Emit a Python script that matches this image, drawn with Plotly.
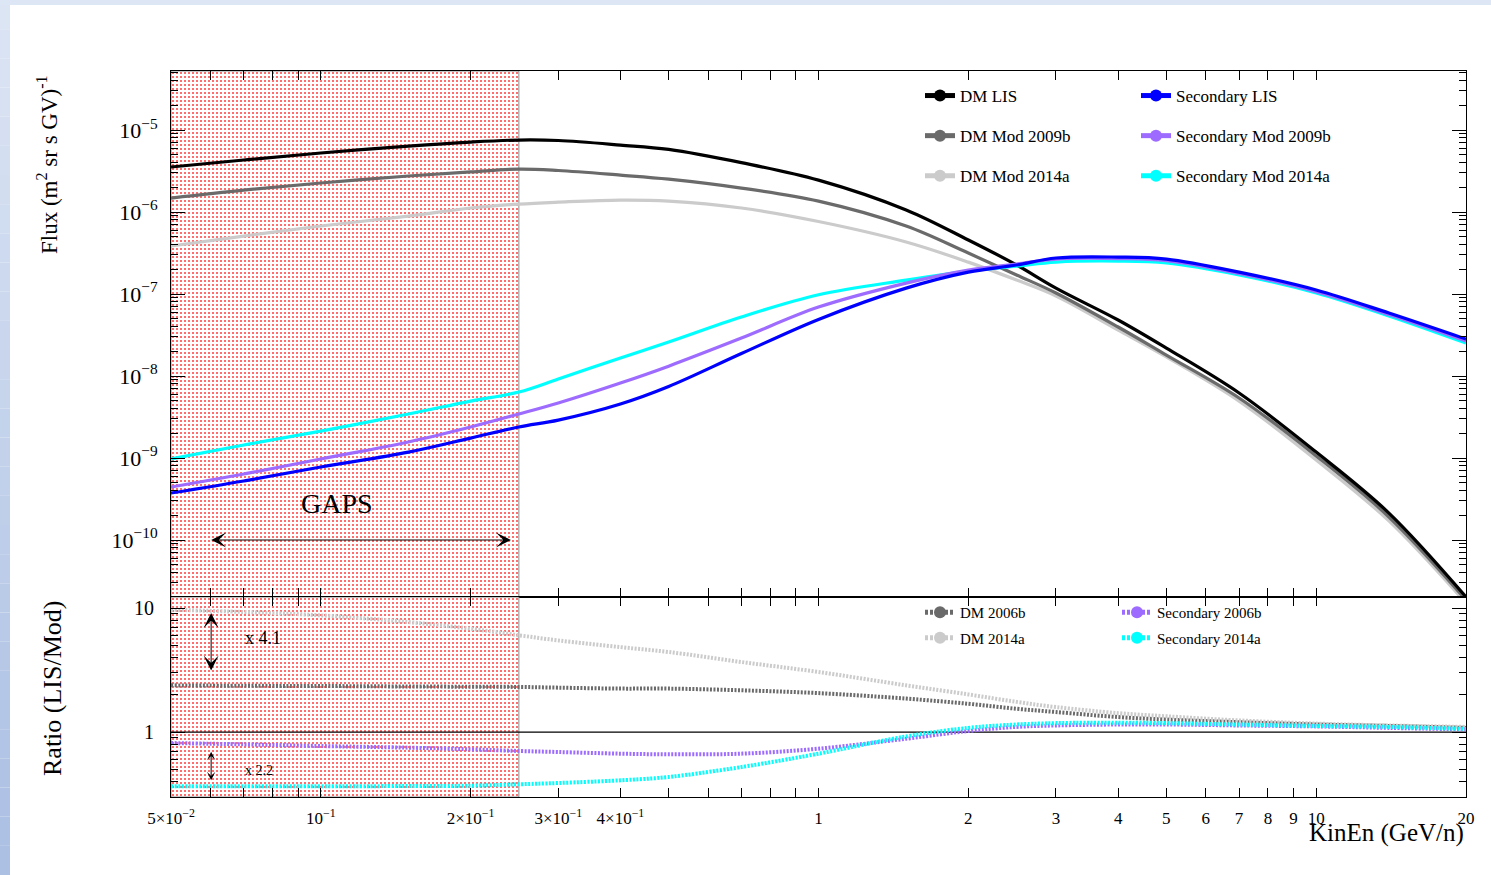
import numpy as np
import plotly.graph_objects as go

# ---------------------------------------------------------------- data
energy = [0.05, 0.07, 0.1, 0.15, 0.2, 0.25, 0.3, 0.4, 0.5, 0.7, 1,
          1.5, 2, 2.5, 3, 4, 5, 7, 10, 14, 20]  # GeV/n

dm_lis = [3.54e-6, 4.31e-6, 5.25e-6, 6.38e-6, 7.14e-6, 7.55e-6, 7.45e-6,
          6.56e-6, 5.80e-6, 4.00e-6, 2.45e-6, 1.06e-6, 4.56e-7, 2.26e-7,
          1.18e-7, 4.82e-8, 2.19e-8, 6.21e-9, 1.18e-9, 2.13e-10, 2.02e-11]
dm_mod_2009b = [1.48e-6, 1.85e-6, 2.26e-6, 2.75e-6, 3.08e-6, 3.34e-6,
                3.21e-6, 2.82e-6, 2.52e-6, 1.96e-6, 1.36e-6, 6.75e-7,
                3.16e-7, 1.71e-7, 1.03e-7, 3.96e-8, 1.80e-8, 5.40e-9,
                1.06e-9, 1.91e-10, 1.86e-11]
dm_mod_2014a = [3.85e-7, 5.09e-7, 6.75e-7, 8.93e-7, 1.12e-6, 1.25e-6,
                1.32e-6, 1.40e-6, 1.36e-6, 1.12e-6, 7.66e-7, 4.31e-7,
                2.45e-7, 1.48e-7, 9.46e-8, 3.64e-8, 1.71e-8, 4.95e-9,
                9.46e-10, 1.71e-10, 1.70e-11]
sec_lis = [3.74e-10, 5.25e-10, 7.76e-10, 1.18e-9, 1.75e-9, 2.39e-9,
           2.90e-9, 4.56e-9, 7.45e-9, 1.88e-8, 4.90e-8, 1.18e-7, 1.85e-7,
           2.26e-7, 2.75e-7, 2.82e-7, 2.67e-7, 1.85e-7, 1.12e-7, 5.86e-8,
           2.82e-8]
sec_mod_2009b = [4.43e-10, 6.38e-10, 9.73e-10, 1.57e-9, 2.39e-9, 3.44e-9,
                 4.69e-9, 8.22e-9, 1.32e-8, 2.90e-8, 6.93e-8, 1.36e-7,
                 1.96e-7, 2.32e-7, 2.67e-7, 2.71e-7, 2.56e-7, 1.78e-7,
                 1.07e-7, 5.62e-8, 2.67e-8]
sec_mod_2014a = [9.73e-10, 1.44e-9, 2.13e-9, 3.44e-9, 4.95e-9, 6.38e-9,
                 9.19e-9, 1.66e-8, 2.60e-8, 5.25e-8, 9.80e-8, 1.48e-7,
                 1.91e-7, 2.19e-7, 2.45e-7, 2.52e-7, 2.39e-7, 1.71e-7,
                 1.03e-7, 5.40e-8, 2.52e-8]

ratio_dm_2006b = [2.38, 2.36, 2.35, 2.33, 2.32, 2.31, 2.28, 2.24, 2.24, 2.17,
                  2.06, 1.86, 1.69, 1.54, 1.45, 1.32, 1.26, 1.20, 1.15, 1.12,
                  1.08]
ratio_dm_2014a = [9.70, 9.29, 8.73, 7.71, 6.81, 6.03, 5.48, 4.84, 4.42, 3.67,
                  3.05, 2.38, 2.01, 1.75, 1.59, 1.42, 1.34, 1.24, 1.17, 1.13,
                  1.10]
ratio_sec_2006b = [0.815, 0.795, 0.771, 0.748, 0.725, 0.703, 0.690, 0.669,
                   0.661, 0.669, 0.734, 0.883, 1.02, 1.10, 1.13, 1.15, 1.15,
                   1.13, 1.11, 1.08, 1.05]
ratio_sec_2014a = [0.365, 0.365, 0.365, 0.367, 0.369, 0.379, 0.388, 0.408,
                   0.434, 0.522, 0.669, 0.922, 1.08, 1.15, 1.18, 1.19, 1.18,
                   1.15, 1.12, 1.10, 1.06]

gaps_band = (0.05, 0.25)

x_ticks = [0.05, 0.1, 0.2, 0.3, 0.4, 1, 2, 3, 4, 5, 6, 7, 8, 9, 10, 20]
x_tick_text = ["5×10<sup>−2</sup>", "10<sup>−1</sup>", "2×10<sup>−1</sup>",
               "3×10<sup>−1</sup>", "4×10<sup>−1</sup>", "1", "2", "3", "4",
               "5", "6", "7", "8", "9", "10", "20"]
x_minor = [0.06, 0.07, 0.08, 0.09, 0.5, 0.6, 0.7, 0.8, 0.9]

flux_ticks = [1e-10, 1e-9, 1e-8, 1e-7, 1e-6, 1e-5]
flux_tick_text = ["10<sup>−10</sup>", "10<sup>−9</sup>", "10<sup>−8</sup>",
                  "10<sup>−7</sup>", "10<sup>−6</sup>", "10<sup>−5</sup>"]
ratio_ticks = [1, 10]
ratio_tick_text = ["1", "10"]

# ---------------------------------------------------------------- layout geometry
W, H = 1491, 875
X_DOM = [171 / W, 1466 / W]
TOP_DOM = [1 - 597 / H, 1 - 71 / H]
BOT_DOM = [1 - 797 / H, 1 - 597 / H]
X_RANGE = [np.log10(0.05), np.log10(20)]
FLUX_RANGE = [-10.695, -4.28]
RATIO_RANGE = [-0.524, 1.089]

FONT = "Liberation Serif"
BLACK = "#000000"
DARK = "#6a6a6a"
LIGHT = "#cbcbcb"
BLUE = "#0000ff"
PURPLE = "#9d6bff"
CYAN = "#00ffff"

fig = go.Figure()

# GAPS acceptance band, drawn in both panels
for xa, ya, rng in (("x", "y", FLUX_RANGE), ("x2", "y2", RATIO_RANGE)):
    lo, hi = 10 ** rng[0], 10 ** rng[1]
    fig.add_trace(go.Scatter(
        x=[gaps_band[0], gaps_band[1], gaps_band[1], gaps_band[0], gaps_band[0]],
        y=[lo, lo, hi, hi, lo], xaxis=xa, yaxis=ya, mode="lines",
        fill="toself", fillcolor="rgba(0,0,0,0)",
        fillpattern=dict(shape=".", fgcolor="#ff4a4a", bgcolor="#ffffff",
                         size=4, solidity=0.22),
        line=dict(color="#8a8a8a", width=1), hoverinfo="skip",
        showlegend=False))

# ratio = 1 reference line
fig.add_trace(go.Scatter(x=[energy[0], energy[-1]], y=[1, 1], xaxis="x2",
                         yaxis="y2", mode="lines",
                         line=dict(color=BLACK, width=1.2),
                         hoverinfo="skip", showlegend=False))

# flux curves
flux_series = [
    ("DM LIS", dm_lis, BLACK, 10, "legend"),
    ("DM Mod 2009b", dm_mod_2009b, DARK, 6, "legend"),
    ("DM Mod 2014a", dm_mod_2014a, LIGHT, 6, "legend"),
    ("Secondary LIS", sec_lis, BLUE, 6, "legend2"),
    ("Secondary Mod 2009b", sec_mod_2009b, PURPLE, 6, "legend2"),
    ("Secondary Mod 2014a", sec_mod_2014a, CYAN, 6, "legend2"),
]
draw_order = [2, 1, 0, 5, 4, 3]
for i in draw_order:
    name, vals, col, _, _ = flux_series[i]
    fig.add_trace(go.Scatter(x=energy, y=vals, xaxis="x", yaxis="y",
                             mode="lines", line=dict(color=col, width=3.2,
                                                     shape="spline",
                                                     smoothing=1.0),
                             name=name, showlegend=False))
for k, (name, vals, col, msize, leg) in enumerate(flux_series):
    fig.add_trace(go.Scatter(x=[None], y=[None], xaxis="x", yaxis="y",
                             mode="lines+markers", name=name,
                             line=dict(color=col, width=4),
                             marker=dict(color=col, size=msize),
                             legend=leg, legendgroup=f"f{k}"))

# ratio curves
ratio_series = [
    ("DM 2006b", ratio_dm_2006b, DARK, "legend3"),
    ("DM 2014a", ratio_dm_2014a, LIGHT, "legend3"),
    ("Secondary 2006b", ratio_sec_2006b, PURPLE, "legend4"),
    ("Secondary 2014a", ratio_sec_2014a, CYAN, "legend4"),
]
for name, vals, col, _ in ratio_series:
    fig.add_trace(go.Scatter(x=energy, y=vals, xaxis="x2", yaxis="y2",
                             mode="lines",
                             line=dict(color=col, width=4, dash="2px,1.5px",
                                       shape="spline", smoothing=1.0),
                             name=name, showlegend=False))
for k, (name, vals, col, leg) in enumerate(ratio_series):
    fig.add_trace(go.Scatter(x=[None], y=[None], xaxis="x2", yaxis="y2",
                             mode="lines+markers", name=name,
                             line=dict(color=col, width=3.5, dash="3px,2px"),
                             marker=dict(color=col, size=7),
                             legend=leg, legendgroup=f"r{k}"))

# ---------------------------------------------------------------- axes
tick_common = dict(ticks="inside", tickcolor=BLACK, tickwidth=1,
                   showline=True, linecolor=BLACK, linewidth=1,
                   mirror="allticks", showgrid=False, zeroline=False,
                   automargin=False)

x_common = dict(type="log", range=X_RANGE, domain=X_DOM, tickvals=x_ticks,
                ticktext=x_tick_text, ticklen=9,
                minor=dict(tickvals=x_minor, ticks="inside", ticklen=9,
                           tickcolor=BLACK, showgrid=False),
                **tick_common)


def minor_log(lo, hi):
    out = []
    for e in range(int(np.floor(lo)), int(np.ceil(hi)) + 1):
        for m in range(2, 10):
            v = m * 10.0 ** e
            if lo <= np.log10(v) <= hi:
                out.append(v)
    return out


fig.update_layout(
    template="none",
    width=W, height=H, autosize=False,
    margin=dict(l=0, r=0, t=0, b=0, pad=0, autoexpand=False),
    paper_bgcolor="#ffffff", plot_bgcolor="#ffffff",
    font=dict(family=FONT, color=BLACK, size=17),
    xaxis=dict(anchor="y", showticklabels=False, **x_common),
    xaxis2=dict(anchor="y2", matches="x", showticklabels=True,
                tickfont=dict(size=17), ticklabelstandoff=6, **x_common),
    yaxis=dict(type="log", range=FLUX_RANGE, domain=TOP_DOM, anchor="x",
               tickvals=flux_ticks, ticktext=flux_tick_text, ticklen=14,
               tickfont=dict(size=22), ticklabelstandoff=8,
               minor=dict(tickvals=minor_log(*FLUX_RANGE), ticks="inside",
                          ticklen=7, tickcolor=BLACK, showgrid=False),
               **tick_common),
    yaxis2=dict(type="log", range=RATIO_RANGE, domain=BOT_DOM, anchor="x2",
                tickvals=ratio_ticks, ticktext=ratio_tick_text, ticklen=14,
                tickfont=dict(size=20), ticklabelstandoff=12,
                minor=dict(tickvals=minor_log(*RATIO_RANGE), ticks="inside",
                           ticklen=7, tickcolor=BLACK, showgrid=False),
                **tick_common),
)

leg_common = dict(xanchor="left", yanchor="top", bgcolor="rgba(0,0,0,0)",
                  borderwidth=0, orientation="v", itemsizing="constant",
                  traceorder="grouped")
fig.update_layout(
    legend=dict(x=920 / W, y=1 - 78 / H, font=dict(size=17),
                tracegroupgap=15, **leg_common),
    legend2=dict(x=1136 / W, y=1 - 78 / H, font=dict(size=17),
                 tracegroupgap=15, **leg_common),
    legend3=dict(x=920 / W, y=1 - 596 / H, font=dict(size=15),
                 tracegroupgap=3, **leg_common),
    legend4=dict(x=1117 / W, y=1 - 596 / H, font=dict(size=15),
                 tracegroupgap=3, **leg_common),
)

# ---------------------------------------------------------------- frame band
shapes = []
n_steps = 30
top_col = np.array([0xdc, 0xe5, 0xf4])
bot_col = np.array([0xac, 0xc0, 0xe4])
for i in range(n_steps):
    t = i / (n_steps - 1)
    c = (top_col * (1 - t) + bot_col * t).astype(int)
    shapes.append(dict(type="rect", xref="paper", yref="paper", x0=0,
                       x1=10 / W, y0=1 - (i + 1) / n_steps,
                       y1=1 - i / n_steps, line=dict(width=0),
                       fillcolor=f"rgb({c[0]},{c[1]},{c[2]})", layer="below"))
shapes.append(dict(type="rect", xref="paper", yref="paper", x0=0, x1=1,
                   y0=1 - 5 / H, y1=1, line=dict(width=0),
                   fillcolor="#dde6f4", layer="below"))
fig.update_layout(shapes=shapes)

# ---------------------------------------------------------------- annotations
ann = []
ann.append(dict(text="Flux (m<sup>2</sup> sr s GV)<sup>-1</sup>",
                xref="paper", yref="paper", x=47 / W, y=1 - 165 / H,
                textangle=-90, showarrow=False, font=dict(size=23),
                xanchor="center", yanchor="middle"))
ann.append(dict(text="Ratio (LIS/Mod)", xref="paper", yref="paper",
                x=52 / W, y=1 - 688 / H, textangle=-90, showarrow=False,
                font=dict(size=26), xanchor="center", yanchor="middle"))
ann.append(dict(text="KinEn (GeV/n)", xref="paper", yref="paper",
                x=1466 / W, y=1 - 833 / H, showarrow=False,
                font=dict(size=25), xanchor="right", yanchor="middle"))
ann.append(dict(text="GAPS", xref="paper", yref="paper", x=337 / W,
                y=1 - 504 / H, showarrow=False, font=dict(size=28),
                xanchor="center", yanchor="middle"))
# double-headed arrow spanning the GAPS band
arrow_big = dict(showarrow=True, arrowside="end+start", arrowhead=3,
                 startarrowhead=3, arrowsize=2.5, startarrowsize=2.5,
                 arrowwidth=1, arrowcolor=BLACK, standoff=0, startstandoff=0,
                 text="")
ann.append(dict(xref="x", yref="y", axref="x", ayref="y",
                x=np.log10(0.241), y=-10, ax=np.log10(0.0598), ay=-10,
                **arrow_big))
# ratio spread markers
ann.append(dict(xref="x2", yref="y2", axref="x2", ayref="y2",
                x=np.log10(0.0602), y=np.log10(9.1), ax=np.log10(0.0602),
                ay=np.log10(3.05), **arrow_big))
ann.append(dict(text="", xref="x2", yref="y2", axref="x2", ayref="y2",
                x=np.log10(0.0602), y=np.log10(0.693), ax=np.log10(0.0602),
                ay=np.log10(0.397), showarrow=True, arrowside="end+start",
                arrowhead=3, startarrowhead=3, arrowsize=1.4,
                startarrowsize=1.4, arrowwidth=1, arrowcolor=BLACK,
                standoff=0, startstandoff=0))
ann.append(dict(text="x 4.1", xref="paper", yref="paper", x=243 / W,
                y=1 - 638 / H, showarrow=False, font=dict(size=18),
                xanchor="left", yanchor="middle"))
ann.append(dict(text="x 2.2", xref="paper", yref="paper", x=243 / W,
                y=1 - 770 / H, showarrow=False, font=dict(size=14),
                xanchor="left", yanchor="middle"))
fig.update_layout(annotations=ann)

fig.write_html("out.html")
